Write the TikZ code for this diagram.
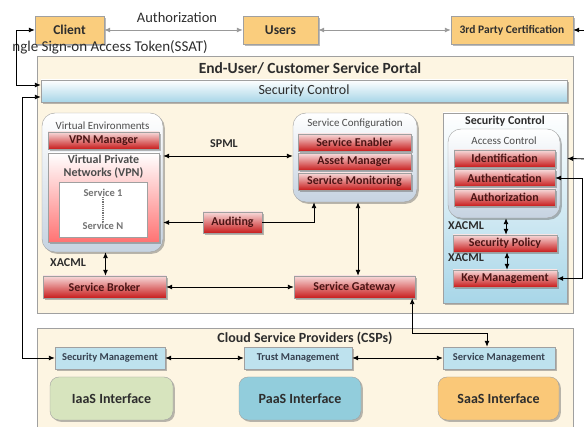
\documentclass[tikz,border=0pt]{standalone}
\usepackage{fontspec}
\setmainfont{Carlito}
\usetikzlibrary{arrows.meta,shadows,calc}
\definecolor{orangebox}{RGB}{250,205,125}
\definecolor{cream}{RGB}{253,245,226}
\definecolor{edge}{RGB}{160,160,160}
\definecolor{redtop}{RGB}{247,218,218}
\definecolor{redbot}{RGB}{200,28,28}
\definecolor{redtext}{RGB}{75,20,20}
\definecolor{bluebot}{RGB}{168,214,232}
\definecolor{greybot}{RGB}{198,211,225}
\definecolor{mgmt}{RGB}{190,226,238}
\definecolor{iaas}{RGB}{215,228,190}
\definecolor{paas}{RGB}{146,205,220}
\definecolor{saas}{RGB}{250,200,120}
\definecolor{txt}{RGB}{45,45,45}
\definecolor{mgtxt}{RGB}{55,65,80}
\newcommand{\fsz}[1]{\fontsize{#1}{#1}\selectfont}
\begin{document}
\begin{tikzpicture}[x=1pt,y=-1pt,
  >={Latex[length=6pt,width=5pt]},
  shad/.style={drop shadow={shadow xshift=1.8pt,shadow yshift=-1.8pt,fill=black!60,opacity=.45}},
  obox/.style={draw=edge,fill=orangebox,shad,inner sep=0,text=txt,font=\bfseries\fsz{13.5}},
  panel/.style={draw=edge,fill=cream,inner sep=0},
  bar/.style={draw=edge,top color=white,bottom color=bluebot,shad,inner sep=0,text=txt,font=\fsz{14}},
  rbox/.style={draw=edge,rounded corners=13pt,top color=white,bottom color=greybot,shad,inner sep=0},
  redbox/.style={draw=edge,top color=redtop,bottom color=redbot,shad,inner sep=0,text=redtext,font=\bfseries\fsz{12}},
  mbox/.style={draw=edge,fill=mgmt,shad,inner sep=0,text=mgtxt,font=\bfseries\fsz{10.5}},
  ibox/.style={draw=edge,rounded corners=9pt,shad,inner sep=0,text=txt,font=\bfseries\fsz{14}},
  lbl/.style={inner sep=0,text=txt},
  conn/.style={line width=0.9pt,black},
  gconn/.style={line width=0.9pt,black!40,>={Latex[length=6pt,width=5pt,fill=black!40]}}
]
\useasboundingbox (0,0) rectangle (584,427);

% ---- top row ----
\node[obox,minimum width=69,minimum height=28] (client) at (69.5,30) {Client};
\node[obox,minimum width=75,minimum height=28] (users) at (280.5,30) {Users};
\node[obox,minimum width=122,minimum height=28,font=\bfseries\fsz{11.5}] (third) at (512,30) {3rd Party Certification};
\node[lbl,font=\fsz{14.5}] (authlbl) at (177,18) {Authorization};
\node[lbl,font=\fsz{15},anchor=east] (ssat) at (208,47) {ngle Sign-on Access Token(SSAT)};
\coordinate (tin) at (590,30);

% ---- portal ----
\node[panel,minimum width=536,minimum height=257] (portal) at (305,184.5) {};
\node[lbl,font=\bfseries\fsz{15.5}] (ptitle) at (310,68) {End-User/ Customer Service Portal};
\node[bar,minimum width=526,minimum height=22] (bar) at (304,91) {Security Control};

% virtual environments
\node[rbox,minimum width=121,minimum height=139] (ve) at (102.5,182.5) {};
\node[lbl,font=\fsz{11},text=black!70] (vetitle) at (102.5,126) {Virtual Environments};
\node[redbox,minimum width=111,minimum height=17] (vpnmgr) at (103.5,140.5) {VPN Manager};
\node[draw=edge,top color=white,bottom color=red!55!white,shad,inner sep=0,minimum width=111,minimum height=89] (vpn) at (103.5,197.5) {};
\node[lbl,font=\bfseries\fontsize{12}{13}\selectfont,align=center,text=black!70] (vpntxt) at (103.5,167) {Virtual Private\\Networks (VPN)};
\node[draw=edge,fill=white,inner sep=0,minimum width=88,minimum height=55] (svcbox) at (103,209.5) {};
\node[lbl,font=\bfseries\fsz{10.5},text=black!55] (s1) at (103,193) {Service 1};
\node[lbl,font=\bfseries\fsz{10.5},text=black!55] (sN) at (103,226) {Service N};
\draw[black!55,line width=1.6pt,dash pattern=on 1.2pt off 1pt] (s1.south) -- (sN.north);

% service configuration
\node[rbox,minimum width=124,minimum height=89] (sc) at (355,157.5) {};
\node[lbl,font=\fsz{11},text=black!70] (sctitle) at (355,124) {Service Configuration};
\node[redbox,minimum width=113,minimum height=17] (senab) at (354.5,142.5) {Service Enabler};
\node[redbox,minimum width=113,minimum height=17] (asset) at (354.5,162) {Asset Manager};
\node[redbox,minimum width=113,minimum height=17] (smon) at (354.5,181.5) {Service Monitoring};

\node[redbox,minimum width=59,minimum height=21] (audit) at (232.5,222.5) {Auditing};
\node[redbox,minimum width=123,minimum height=22] (sb) at (104.5,287) {Service Broker};
\node[redbox,minimum width=121,minimum height=22] (sg) at (354.5,287) {Service Gateway};

\node[lbl,font=\bfseries\fsz{12}] (spmllbl) at (224,144) {SPML};
\node[lbl,font=\bfseries\fsz{12}] (xac1) at (68,263) {XACML};
\coordinate (spmlrow) at (0,156);

% right security control
\node[draw=edge,top color=white,bottom color=bluebot,shad,inner sep=0,minimum width=124,minimum height=190] (rsc) at (505,208) {};
\node[lbl,font=\bfseries\fsz{12}] (rsctitle) at (505,121) {Security Control};
\node[rbox,minimum width=112,minimum height=89] (ac) at (504,173.5) {};
\node[lbl,font=\fsz{11},text=black!70] (actitle) at (504,141) {Access Control};
\node[redbox,minimum width=101,minimum height=17] (ident) at (504.5,158.5) {Identification};
\node[redbox,minimum width=101,minimum height=17] (authn) at (504.5,178) {Authentication};
\node[redbox,minimum width=101,minimum height=17] (authz) at (504.5,197.5) {Authorization};
\node[redbox,minimum width=104,minimum height=17] (spol) at (505,243.5) {Security Policy};
\node[redbox,minimum width=104,minimum height=17] (keym) at (505,278.5) {Key Management};
\node[lbl,font=\bfseries\fsz{12}] (xac2) at (466,226) {XACML};
\node[lbl,font=\bfseries\fsz{12}] (xac3) at (466,258) {XACML};
\coordinate (rin) at (590,159);

% ---- cloud service providers ----
\node[panel,minimum width=536,minimum height=104] (csp) at (305,380) {};
\node[lbl,font=\bfseries\fsz{14}] (csptitle) at (305,338) {Cloud Service Providers (CSPs)};
\node[mbox,minimum width=110,minimum height=22] (secm) at (110,358) {Security Management};
\node[mbox,minimum width=108,minimum height=22] (trustm) at (298,358) {Trust Management};
\node[mbox,minimum width=112,minimum height=22] (servm) at (499,358) {Service Management};
\node[ibox,fill=iaas,minimum width=123,minimum height=43] (iaas) at (111.5,398.5) {IaaS Interface};
\node[ibox,fill=paas,minimum width=122,minimum height=43] (paas) at (300,398.5) {PaaS Interface};
\node[ibox,fill=saas,minimum width=121,minimum height=43] (saas) at (498.5,398.5) {SaaS Interface};

% ---- connectors ----
\draw[gconn,<->] (client.east) -- (users.west);
\draw[gconn,<->] (users.east) -- (third.west);
\draw[conn,->] (tin) -- (third.east);
\draw[conn,<->] (client.west) -- ++(-18,0) |- ([yshift=6pt]bar.west);
\draw[conn,<->] ([yshift=-6pt]bar.west) -- ++(-18,0) |- (secm.west);

\draw[conn,<->] (ve.east |- spmlrow) -- (sc.west |- spmlrow);
\draw[conn,->] (audit.west) -- (audit.west -| ve.east);
\draw[conn,->] (audit.east) -| ([xshift=-41pt]sc.south);
\draw[conn,<->] ([xshift=3pt]ve.south) -- ([xshift=3pt]ve.south |- sb.north);
\draw[conn,<->] ([xshift=3pt]sc.south) -- ([xshift=3pt]sc.south |- sg.north);
\draw[conn,<->] (sb.east) -- (sg.west);

\draw[conn,->] (rin) -- (ident -| rsc.east);
\draw[conn,<->] (authn.east) -- ++(27,0) |- (keym.east);
\draw[conn,<->] ([xshift=2pt]ac.south) -- ([xshift=2pt]ac.south |- spol.north);
\draw[conn,<->] ([xshift=2pt]spol.south) -- ([xshift=2pt]spol.south |- keym.north);

\draw[conn,<->] ([xshift=-3pt]sg.south east) -- ++(0,35) -| ([xshift=-12pt]servm.north);
\draw[conn,<->] (secm.east) -- (trustm.west);
\draw[conn,<->] (trustm.east) -- (servm.west);
\end{tikzpicture}
\end{document}
